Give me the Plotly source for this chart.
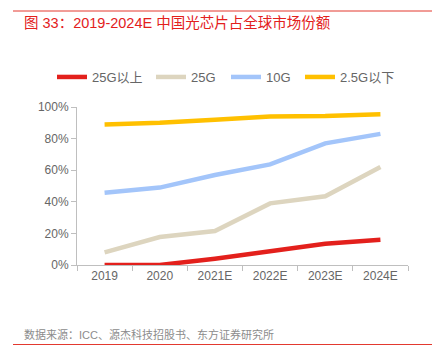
import plotly.graph_objects as go

categories = ["2019", "2020", "2021E", "2022E", "2023E", "2024E"]
s_25g_plus = [0.0, 0.0, 0.04, 0.085, 0.135, 0.16]
s_25g = [0.08, 0.177, 0.215, 0.39, 0.435, 0.62]
s_10g = [0.458, 0.49, 0.57, 0.637, 0.77, 0.83]
s_2_5g_minus = [0.89, 0.90, 0.92, 0.94, 0.943, 0.954]

series_names = ["25G以上", "25G", "10G", "2.5G以下"]
series_values = [s_25g_plus, s_25g, s_10g, s_2_5g_minus]
colors = ["#E3201C", "#DDD5BF", "#A3C5FA", "#FFC000"]
legend_px = [57, 156, 231, 305]

W, H = 432, 364
ml, mr, mt, mb = 77, 24, 107, 99
ph = H - mt - mb
pw = W - ml - mr

def px_x(p):
    return (p - ml) / pw

def px_y(p):
    return (H - mb - p) / ph

font_lat = "Liberation Sans, Arial, Noto Sans CJK SC, sans-serif"

fig = go.Figure()
legend_layouts = {}
for i, (name, vals, c) in enumerate(zip(series_names, series_values, colors)):
    lg = "legend" if i == 0 else f"legend{i + 1}"
    fig.add_trace(go.Scatter(x=categories, y=vals, name=name, mode="lines",
                             line=dict(color=c, width=4.5), legend=lg))
    legend_layouts[lg] = dict(orientation="h", x=px_x(legend_px[i] - 5), xanchor="left",
                              y=px_y(77), yanchor="middle", borderwidth=0,
                              font=dict(size=13, color="#666666", family=font_lat),
                              bgcolor="rgba(0,0,0,0)")

fig.update_layout(
    width=W, height=H,
    margin=dict(l=ml, r=mr, t=mt, b=mb),
    paper_bgcolor="white", plot_bgcolor="white",
    font=dict(family=font_lat, color="#666666", size=12),
    showlegend=True,
    xaxis=dict(type="category", range=[-0.5, 5.5], showgrid=False, showline=True,
               linecolor="#BFBFBF", ticks="outside", tickson="boundaries", ticklen=5,
               tickcolor="#BFBFBF", tickfont=dict(size=12, color="#666666"), fixedrange=True),
    yaxis=dict(range=[0, 1], tickvals=[0, 0.2, 0.4, 0.6, 0.8, 1.0],
               ticktext=["0%", "20%", "40%", "60%", "80%", "100%"],
               showgrid=False, showline=True, linecolor="#BFBFBF", zeroline=False,
               ticks="outside", ticklen=5, tickcolor="#BFBFBF",
               tickfont=dict(size=12, color="#666666"), fixedrange=True),
    shapes=[
        dict(type="line", xref="paper", yref="paper",
             x0=px_x(13), x1=px_x(432), y0=px_y(11), y1=px_y(11),
             line=dict(color="#E3392F", width=1)),
        dict(type="line", xref="paper", yref="paper",
             x0=px_x(13), x1=px_x(432), y0=px_y(344.5), y1=px_y(344.5),
             line=dict(color="#E3392F", width=1)),
    ],
    annotations=[
        dict(text="图 33：2019-2024E 中国光芯片占全球市场份额", xref="paper", yref="paper",
             x=px_x(22), y=px_y(22.5), xanchor="left", yanchor="middle",
             showarrow=False, font=dict(size=14.5, color="#E3201C", family=font_lat)),
        dict(text="数据来源：ICC、源杰科技招股书、东方证券研究所", xref="paper", yref="paper",
             x=px_x(22), y=px_y(334), xanchor="left", yanchor="middle",
             showarrow=False, font=dict(size=11, color="#8C8C8C", family=font_lat)),
    ],
    **legend_layouts,
)

fig.write_html("out.html", post_script="document.body.style.margin='0';",
               config={"displayModeBar": False, "staticPlot": True})
